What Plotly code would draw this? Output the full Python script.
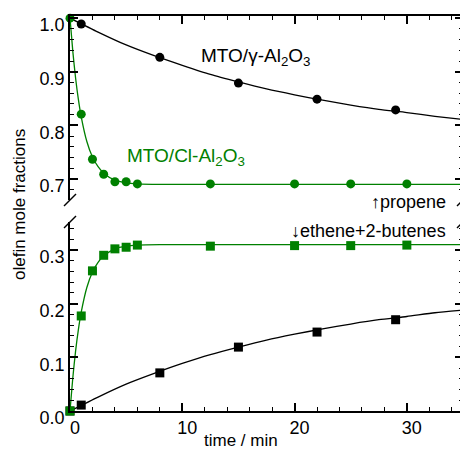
import plotly.graph_objects as go

# ---- data ----
# measured points
t_gamma = [1, 8, 15, 22, 29]
propene_gamma = [0.989, 0.927, 0.879, 0.849, 0.829]
ethbut_gamma = [0.011, 0.071, 0.119, 0.147, 0.170]

t_cl = [0, 1, 2, 3, 4, 5, 6, 12.5, 20, 25, 30]
propene_cl = [1.0, 0.821, 0.737, 0.709, 0.695, 0.695, 0.691, 0.691, 0.691, 0.691, 0.691]
ethbut_cl = [0.0, 0.177, 0.261, 0.290, 0.302, 0.305, 0.309, 0.307, 0.308, 0.308, 0.309]

# fitted curves
t_fit_gamma = [0, 2.5, 5, 7.5, 10, 12.5, 15, 17.5, 20, 22.5, 25, 27.5, 30, 32.5, 35]
propene_gamma_fit = [1.0, 0.974, 0.950, 0.930, 0.912, 0.895, 0.881, 0.868, 0.857,
                     0.847, 0.838, 0.830, 0.824, 0.817, 0.811]
ethbut_gamma_fit = [0.0, 0.026, 0.050, 0.070, 0.0885, 0.105, 0.119, 0.132, 0.143,
                    0.153, 0.162, 0.170, 0.176, 0.183, 0.188]

t_fit_cl = [0, 0.25, 0.5, 0.75, 1, 1.5, 2, 2.5, 3, 4, 5, 6, 8, 35]
propene_cl_fit = [1.0, 0.938, 0.888, 0.848, 0.816, 0.770, 0.741, 0.723, 0.711,
                  0.698, 0.693, 0.691, 0.690, 0.690]
ethbut_cl_fit = [0.0, 0.062, 0.112, 0.152, 0.184, 0.230, 0.259, 0.277, 0.289,
                 0.302, 0.307, 0.309, 0.310, 0.310]

x_ticks = [0, 10, 20, 30]
y_ticks_top = [0.7, 0.8, 0.9, 1.0]
y_ticks_bot = [0.0, 0.1, 0.2, 0.3]

GREEN = "#008000"
BLACK = "#000000"
FONT = "Liberation Sans, Arial, sans-serif"

fig = go.Figure()

def line(x, y, color, xa, ya):
    fig.add_trace(go.Scatter(x=x, y=y, mode="lines",
                             line=dict(color=color, width=1.3, shape="spline", smoothing=0.6),
                             xaxis=xa, yaxis=ya, hoverinfo="skip", showlegend=False))

def pts(x, y, color, symbol, xa, ya):
    fig.add_trace(go.Scatter(x=x, y=y, mode="markers",
                             marker=dict(color=color, symbol=symbol, size=9, line=dict(width=0)),
                             xaxis=xa, yaxis=ya, cliponaxis=False, showlegend=False))

# top panel (propene)
line(t_fit_gamma, propene_gamma_fit, BLACK, "x", "y")
line(t_fit_cl, propene_cl_fit, GREEN, "x", "y")
pts(t_gamma, propene_gamma, BLACK, "circle", "x", "y")
pts(t_cl, propene_cl, GREEN, "circle", "x", "y")
# bottom panel (ethene + 2-butenes)
line(t_fit_gamma, ethbut_gamma_fit, BLACK, "x2", "y2")
line(t_fit_cl, ethbut_cl_fit, GREEN, "x2", "y2")
pts([0] + t_gamma, [0.0] + ethbut_gamma, BLACK, "square", "x2", "y2")
pts(t_cl, ethbut_cl, GREEN, "square", "x2", "y2")

# page geometry (the page body adds an 8 px offset)
OFF = 8
PAGE_W, PAGE_H = 468, 449
W, H = PAGE_W - OFF, PAGE_H - OFF
PLOT_L, PLOT_R, PLOT_T, PLOT_B = 70, 463, 16, 411   # page pixels
L, T = PLOT_L - OFF, PLOT_T - OFF
R, B = W - (PLOT_R - OFF), H - (PLOT_B - OFF)
PW, PH = PLOT_R - PLOT_L, PLOT_B - PLOT_T

def py(ypx):  # page pixel y -> paper y
    return (PLOT_B - ypx) / PH
def px(xpx):
    return (xpx - PLOT_L) / PW

top_dom = [py(200), 1.0]
bot_dom = [0.0, py(222)]

axis_common = dict(showline=True, linecolor="black", linewidth=1.5, ticks="inside", ticklen=8,
                   tickwidth=1.5, tickcolor="black", showgrid=False, zeroline=False,
                   tickfont=dict(family=FONT, size=18, color="black"))
minor_x = dict(ticks="inside", ticklen=4, dtick=2, tickcolor="black", tickwidth=1.2)
minor_y = dict(ticks="inside", ticklen=4, dtick=0.02, tick0=0, tickcolor="black", tickwidth=1.2)

fig.update_layout(
    width=W, height=H, margin=dict(l=L, r=R, t=T, b=B, autoexpand=False),
    paper_bgcolor="white", plot_bgcolor="white",
    xaxis=dict(**axis_common, range=[0, 35], anchor="y", side="top", showticklabels=False,
               tickvals=x_ticks, minor=minor_x),
    xaxis2=dict(**axis_common, range=[0, 35], anchor="y2", matches="x", tickvals=x_ticks,
                minor=minor_x, ticklabelshift=5),
    yaxis=dict(**axis_common, domain=top_dom, range=[0.661, 1.004], anchor="x", mirror="ticks",
               tickvals=y_ticks_top, tickformat=".1f", minor=minor_y, ticklabelshift=7),
    yaxis2=dict(**axis_common, domain=bot_dom, range=[0.0, 0.352], anchor="x2", mirror="ticks",
                tickvals=y_ticks_bot, tickformat=".1f", minor=minor_y, ticklabelshift=7),
)

# axis break marks
for xs in (0.0, 1.0):
    for yc in (200, 222):
        fig.add_shape(type="line", xref="paper", yref="paper",
                      x0=xs - 6 / PW, y0=py(yc + 6), x1=xs + 6 / PW, y1=py(yc - 6),
                      line=dict(color="black", width=1.5))

def ann(xp, yp, text, color, size, xanchor="center", **kw):
    fig.add_annotation(x=px(xp), y=py(yp), xref="paper", yref="paper", showarrow=False,
                       xanchor=xanchor, yanchor="middle",
                       text=text, font=dict(family=FONT, size=size, color=color), **kw)

ann(255, 57, "MTO/γ-Al<sub>2</sub>O<sub>3</sub>", BLACK, 19)
ann(186, 157, "MTO/Cl-Al<sub>2</sub>O<sub>3</sub>", GREEN, 19)
ann(448, 202, "↑propene", BLACK, 18, xanchor="right")
ann(448, 231, "↓ethene+2-butenes", BLACK, 18, xanchor="right")
ann(19, 205, "olefin mole fractions", BLACK, 17, textangle=-90)
ann(241, 440, "time / min", BLACK, 17)

fig.write_html("out.html")
